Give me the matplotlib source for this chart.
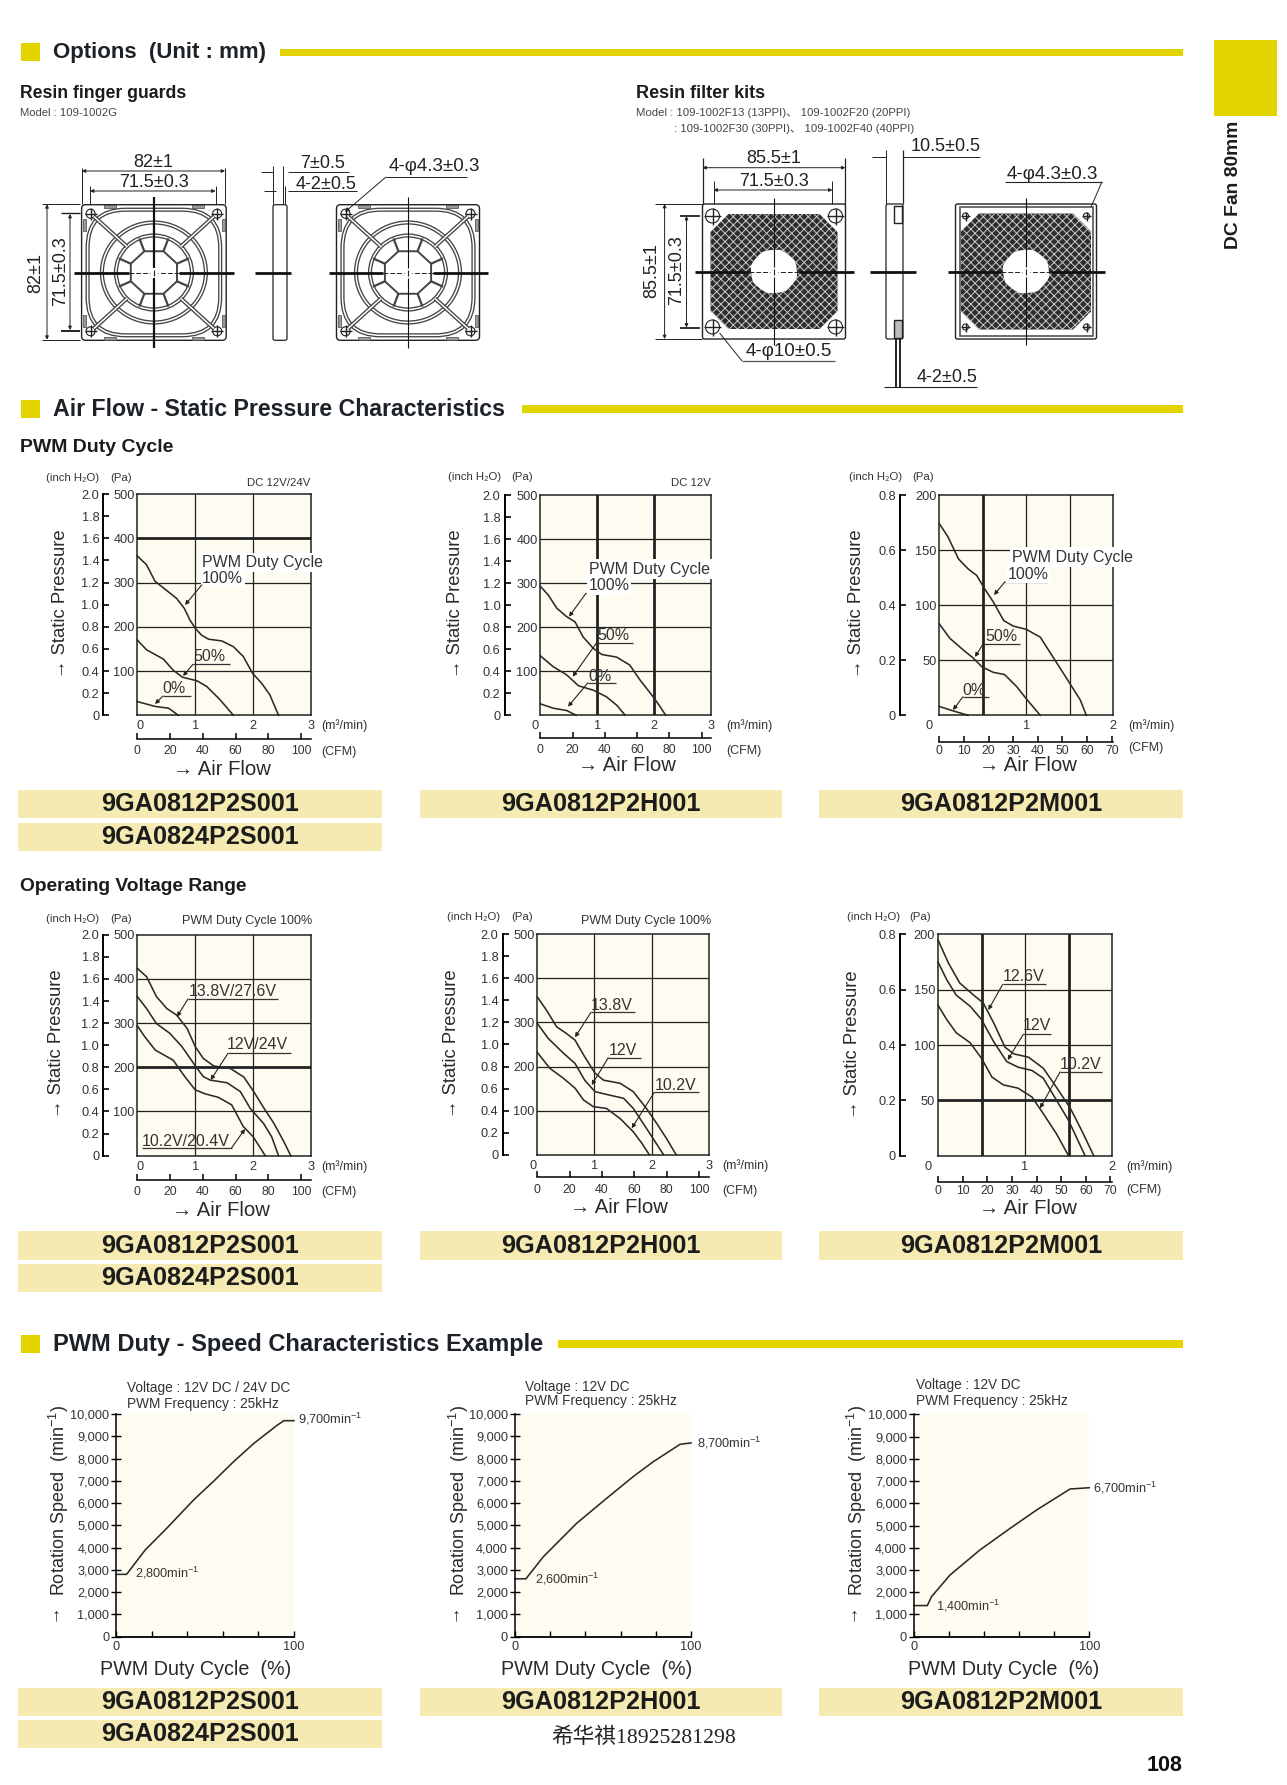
#!/usr/bin/env python3

import numpy as np
import matplotlib
matplotlib.use("Agg")
import matplotlib.pyplot as plt
from matplotlib.patches import Rectangle, Ellipse, FancyBboxPatch, PathPatch, Circle
from matplotlib.path import Path
from matplotlib.transforms import Affine2D, ScaledTranslation

W, H = 1287, 1785

YELLOW = "#E3D400"
BAND = "#F5EBB2"
CREAM = "#FEFCF0"
INK = "#222222"
SANS = ["Liberation Sans", "DejaVu Sans"]

plt.rcParams["hatch.linewidth"] = 0.7

# PWM duty cycle charts: flow in m3/min, pressure in Pa
s_duty_flow_100 = [0, .16, .305, .507, .68, .81, .91, 1.0, 1.11, 1.23, 1.46, 1.66, 1.83, 1.99, 2.15, 2.29, 2.44]
s_duty_pa_100 = [360, 340, 303, 282, 264, 242, 215, 197, 181, 172, 168, 155, 133, 95, 72, 46, 0]
s_duty_flow_50 = [0, .16, .45, .62, .78, 1.03, 1.2, 1.43, 1.66]
s_duty_pa_50 = [170, 148, 127, 102, 86, 78, 65, 35, 0]
s_duty_flow_0 = [0, .31, .54, .71]
s_duty_pa_0 = [31, 20, 16, 0]

h_duty_flow_100 = [0, .14, .29, .46, .61, .75, .93, 1.08, 1.34, 1.57, 1.75, 1.98, 2.1, 2.2]
h_duty_pa_100 = [293, 273, 243, 224, 212, 178, 152, 138, 132, 114, 80, 42, 20, 0]
h_duty_flow_50 = [0, .23, .46, .67, .93, 1.16, 1.34, 1.49]
h_duty_pa_50 = [135, 110, 92, 67, 57, 42, 23, 0]
h_duty_flow_0 = [0, .23, .46, .63]
h_duty_pa_0 = [26, 16, 11, 0]

m_duty_flow_100 = [0, .10, .22, .33, .43, .52, .62, .74, .85, 1.0, 1.16, 1.33, 1.5, 1.62, 1.69]
m_duty_pa_100 = [174, 162, 142, 133, 127, 115, 103, 86, 81, 78, 71, 50, 29, 14, 0]
m_duty_flow_50 = [0, .12, .28, .39, .49, .62, .75, .89, 1.0, 1.16]
m_duty_pa_50 = [83, 70, 59, 52, 44, 39, 37, 26, 15, 0]
m_duty_flow_0 = [0, .16, .33]
m_duty_pa_0 = [8, 4, 0]

# operating voltage charts
s_volt_flow_hi = [0, .16, .33, .51, .68, .86, 1.0, 1.14, 1.32, 1.61, 1.84, 2.01, 2.19, 2.36, 2.53, 2.65]
s_volt_pa_hi = [424, 405, 360, 333, 318, 288, 247, 220, 203, 197, 178, 145, 107, 73, 32, 0]
s_volt_flow_mid = [0, .16, .33, .56, .77, 1.03, 1.14, 1.26, 1.55, 1.78, 1.95, 2.18, 2.32, 2.44]
s_volt_pa_mid = [360, 333, 299, 277, 247, 198, 179, 171, 165, 145, 107, 73, 43, 0]
s_volt_flow_lo = [0, .13, .31, .62, .82, 1.0, 1.17, 1.4, 1.63, 1.83, 2.0, 2.21]
s_volt_pa_lo = [294, 269, 239, 216, 179, 149, 140, 132, 115, 66, 43, 0]

h_volt_flow_hi = [0, .16, .34, .51, .66, .83, 1.01, 1.16, 1.45, 1.68, 1.91, 2.09, 2.26, 2.43]
h_volt_pa_hi = [358, 328, 290, 275, 260, 222, 185, 169, 162, 143, 105, 71, 37, 0]
h_volt_flow_mid = [0, .19, .46, .66, .83, 1.01, 1.27, 1.51, 1.68, 1.97, 2.21]
h_volt_pa_mid = [298, 264, 230, 207, 169, 143, 135, 128, 105, 48, 0]
h_volt_flow_lo = [0, .22, .46, .66, .81, .98, 1.21, 1.45, 1.68, 1.83, 1.96]
h_volt_pa_lo = [232, 196, 173, 151, 124, 109, 105, 82, 52, 26, 0]

m_volt_flow_hi = [0, .12, .25, .41, .52, .64, .77, .87, 1.04, 1.21, 1.36, 1.52, 1.65, 1.79]
m_volt_pa_hi = [195, 174, 156, 145, 138, 120, 98, 92, 89, 79, 62, 43, 23, 0]
m_volt_flow_mid = [0, .10, .21, .37, .50, .64, .79, .92, 1.08, 1.21, 1.34, 1.5, 1.69]
m_volt_pa_mid = [175, 159, 145, 135, 123, 103, 85, 80, 77, 70, 53, 32, 0]
m_volt_flow_lo = [0, .10, .21, .37, .50, .62, .75, .92, 1.08, 1.21, 1.36, 1.5]
m_volt_pa_lo = [136, 123, 111, 102, 88, 71, 64, 61, 53, 38, 20, 0]

# duty - speed charts
s_speed_duty = [0, 5.8, 16.2, 28.4, 43.5, 55, 66, 77.4, 90.6, 94.3, 100]
s_speed_rpm = [2800, 2800, 3890, 4870, 6140, 7000, 7860, 8680, 9500, 9700, 9700]
h_speed_duty = [0, 6.2, 16.1, 35, 52, 67.2, 78.6, 93.8, 100]
h_speed_rpm = [2600, 2600, 3590, 5090, 6210, 7190, 7860, 8640, 8700]
m_speed_duty = [0, 7.6, 10, 20.5, 37.6, 54.8, 70, 89, 100]
m_speed_rpm = [1400, 1400, 1800, 2770, 3900, 4870, 5700, 6640, 6700]

pa_ticks_500 = [100, 200, 300, 400, 500]
pa_ticks_200 = [50, 100, 150, 200]
inch_ticks_2 = [0, .2, .4, .6, .8, 1.0, 1.2, 1.4, 1.6, 1.8, 2.0]
inch_ticks_08 = [0, .2, .4, .6, .8]
cfm_ticks_100 = [0, 20, 40, 60, 80, 100]
cfm_ticks_70 = [0, 10, 20, 30, 40, 50, 60, 70]
rpm_ticks = list(range(0, 10001, 1000))

fig = plt.figure(figsize=(W / 100, H / 100), dpi=100, facecolor="white")

ov = fig.add_axes([0, 0, 1, 1], zorder=5)
ov.set_xlim(0, W)
ov.set_ylim(H, 0)
ov.axis("off")
ov.patch.set_alpha(0)


def txt(x, y, s, size=11, family=SANS, weight="normal", ha="center", va="center", rot=0, color=INK, **kw):
    return ov.text(x, y, s, fontsize=size, family=family, fontweight=weight, ha=ha, va=va,
                   rotation=rot, color=color, **kw)


def seg(xs, ys, lw=0.8, color=INK, **kw):
    ov.plot(xs, ys, lw=lw, color=color, solid_capstyle="butt", **kw)


def arrow(a, b, style="-|>", lw=0.8, size=6):
    ov.annotate("", xy=b, xytext=a,
                arrowprops=dict(arrowstyle=style, lw=lw, color=INK, mutation_scale=size,
                                shrinkA=0, shrinkB=0))


def section(y0, y1, text, size, text_y, bar_x, bar_y0, bar_y1):
    ov.add_patch(Rectangle((20.5, y0), 19.5, y1 - y0, fc=YELLOW, ec="none"))
    txt(53, text_y, text, size=size, weight="bold", ha="left", color="#1c2228")
    ov.add_patch(Rectangle((bar_x, bar_y0), 1182.7 - bar_x, bar_y1 - bar_y0, fc=YELLOW, ec="none"))


def band(x0, x1, y0, y1, label):
    ov.add_patch(Rectangle((x0, y0), x1 - x0, y1 - y0, fc=BAND, ec="none"))
    txt((x0 + x1) / 2, (y0 + y1) / 2 + 0.5, label, size=18.2, weight="bold", color="#1c1c1c")


def px_axes(left, right, top, bottom):
    return fig.add_axes([left / W, 1 - bottom / H, (right - left) / W, (bottom - top) / H], zorder=2)


def fan_chart(box, inch_x, cfm_y, cfm_gap, xmax, ymax, grid_x, pa_ticks, inch_ticks, cfm_ticks, curves,
              thick_x=(), thick_y=(), zero_dx=0):
    left, right, top, bottom = box
    ax = px_axes(left, right, top, bottom)
    ax.set_xlim(0, xmax)
    ax.set_ylim(0, ymax)
    ax.set_facecolor(CREAM)
    for sp in ax.spines.values():
        sp.set_linewidth(1.1)
        sp.set_color(INK)
    for g in grid_x:
        ax.axvline(g, color=INK, lw=2.0 if g in thick_x else 0.9)
    for g in pa_ticks[:-1]:
        ax.axhline(g, color=INK, lw=2.0 if g in thick_y else 0.9)
    for fx, fy in curves:
        ax.plot(fx, fy, color="#2a2a2a", lw=1.15, clip_on=False)
    ax.set_xticks(range(xmax + 1), [str(i) for i in range(xmax + 1)])
    ax.set_yticks(pa_ticks, [str(p) for p in pa_ticks])
    ax.tick_params(length=0, labelsize=9.2, labelfontfamily=SANS[0], labelcolor="#333333")
    ax.tick_params(axis="x", pad=3.5)
    ax.tick_params(axis="y", pad=2)
    if zero_dx:
        lab = ax.get_xticklabels()[0]
        lab.set_transform(lab.get_transform() + ScaledTranslation(zero_dx / 100, 0, fig.dpi_scale_trans))

    wd, ht = right - left, bottom - top
    sec_y = ax.secondary_yaxis((inch_x - left) / wd, functions=(lambda p: p / 250, lambda i: i * 250))
    sec_y.set_yticks(inch_ticks, ["0" if t == 0 else f"{t:.1f}" for t in inch_ticks])
    sec_y.tick_params(direction="in", length=4, width=1.2, pad=3, labelsize=9.2,
                      labelfontfamily=SANS[0], labelcolor="#333333")
    sec_y.spines["left"].set_linewidth(1.4)

    sec_x = ax.secondary_xaxis(-(cfm_y - bottom) / ht, functions=(lambda m: m * 35.31, lambda c: c / 35.31))
    sec_x.set_xticks(cfm_ticks, [str(t) for t in cfm_ticks])
    sec_x.tick_params(direction="in", length=4, width=1.1, pad=cfm_gap * 0.72, labelsize=8.8,
                      labelfontfamily=SANS[0], labelcolor="#333333")
    sec_x.spines["bottom"].set_linewidth(1.1)
    return ax


def chart_labels(inch_c, pa_c, unit_y, unit_x, m3_y, cfm_label_y, flow_c, flow_y, stat_x, stat_y):
    txt(inch_c, unit_y, "(inch H\u2082O)", size=8.2, color="#333333")
    txt(pa_c, unit_y, "(Pa)", size=8.2, color="#333333")
    txt(unit_x, m3_y, "(m\u00b3/min)", size=9, ha="left", color="#333333")
    txt(unit_x, cfm_label_y, "(CFM)", size=9, ha="left", color="#333333")
    txt(flow_c, flow_y, "\u2192 Air Flow", size=14.6, color="#2a2a2a")
    txt(stat_x + 3, stat_y, "\u2192 Static Pressure", size=13.3, rot=90, color="#2a2a2a")


def corner_note(right_x, y, text, size):
    txt(right_x, y, text, size=size, ha="right", color="#333333")


def callout(text, cx, cy, x0, x1, uy, tip, white=False):
    bbox = dict(fc="white", ec="none", pad=1.0) if white else None
    txt(cx, cy, text, size=11.5, color="#333333", bbox=bbox)
    seg([x0, x1], [uy, uy], lw=0.9, color="#333333")
    arrow((x0, uy), tip)


def pwm_title(x, y):
    txt(x, y, "PWM Duty Cycle", size=11.5, ha="left", color="#333333",
        bbox=dict(fc="white", ec="none", pad=1.5))


def speed_chart(box, duty, rpm, note_x, note_lines, note_ys, stat_x, xlab_c):
    left, right, top, bottom = box
    ax = px_axes(left, right, top, bottom)
    ax.set_xlim(0, 100)
    ax.set_ylim(0, 10000)
    ax.set_facecolor(CREAM)
    ax.spines["top"].set_visible(False)
    ax.spines["right"].set_visible(False)
    ax.spines["left"].set_linewidth(1.1)
    ax.spines["bottom"].set_linewidth(1.3)
    ax.plot(duty, rpm, color="#2a2a2a", lw=1.15, clip_on=False)
    ax.set_yticks(rpm_ticks, [f"{r:,}" for r in rpm_ticks])
    ax.set_xticks([0, 20, 40, 60, 80, 100], ["0", "", "", "", "", "100"])
    ax.tick_params(axis="y", direction="inout", length=7, width=1.0, pad=1.5)
    ax.tick_params(axis="x", direction="in", length=4, width=1.0, pad=3)
    ax.tick_params(labelsize=9.2, labelfontfamily=SANS[0], labelcolor="#333333")
    for yy, line in zip(note_ys, note_lines):
        txt(note_x, yy, line, size=9.8, ha="left", color="#333333")
    txt(stat_x + 3, 1500.7, "Rotation Speed  (min$^{\\mathregular{-1}}$)", size=13, rot=90, color="#2a2a2a")
    txt(stat_x, 1616, "\u2191", size=13, color="#2a2a2a")
    txt(xlab_c, 1669.3, "PWM Duty Cycle  (%)", size=14.2, color="#2a2a2a")
    return ax


def speed_note(x, y, text):
    txt(x, y, text + "$^{\\mathregular{-1}}$", size=9.2, ha="left", color="#333333")


def dim_h(x0, x1, y, text, tx, ty):
    arrow((x0, y), (x1, y), style="<|-|>", lw=0.7, size=5)
    txt(tx, ty, text, size=13)


def dim_v(x, y0, y1, text, tx, ty):
    arrow((x, y0), (x, y1), style="<|-|>", lw=0.7, size=5)
    txt(tx, ty, text, size=13, rot=90)


def screw(x, y, r=4.5):
    ov.add_patch(Circle((x, y), r, fc="white", ec=INK, lw=0.8))
    seg([x - r - 1.5, x + r + 1.5], [y, y], lw=1.0)
    seg([x, x], [y - r - 1.5, y + r + 1.5], lw=1.0)


def double_line(xs, ys):
    seg(xs, ys, lw=3.0, color="#444444")
    seg(xs, ys, lw=1.1, color="white")


def center_marks(cx, cy, hw, vw, heavy):
    for sgn in (-1, 1):
        seg([cx + sgn * 25, cx + sgn * hw], [cy, cy], lw=2.0, color="#111111")
        seg([cx + sgn * 25, cx + sgn * 4], [cy, cy], lw=0.7, ls=(0, (5, 2)))
        seg([cx, cx], [cy + sgn * 5, cy + sgn * vw], lw=1.6 if heavy else 0.8, color="#111111")
    seg([cx, cx], [cy - 3, cy + 3], lw=0.8)


def draw_guard(cx, cy, hw, hh, heavy):
    ov.add_patch(FancyBboxPatch((cx - hw, cy - hh), 2 * hw, 2 * hh, boxstyle="round,pad=0,rounding_size=4",
                                fc="white", ec=INK, lw=1.0))
    for ec, lw in (("#444444", 3.0), ("white", 1.1)):
        ov.add_patch(FancyBboxPatch((cx - hw + 6, cy - hh + 5), 2 * hw - 12, 2 * hh - 10,
                                    boxstyle="round,pad=0,rounding_size=38", fc="none", ec=ec, lw=lw))
    for rx, ry in [(52, 50), (38, 37)]:
        ov.add_patch(Ellipse((cx, cy), 2 * rx, 2 * ry, fc="none", ec="#444444", lw=3.0))
        ov.add_patch(Ellipse((cx, cy), 2 * rx, 2 * ry, fc="none", ec="white", lw=1.1))
    # inner polygon ring with its ties to the next ring
    ang = np.deg2rad(np.arange(22.5, 360, 45))
    px = cx + 25 * np.cos(ang)
    py = cy + 23 * np.sin(ang)
    ov.plot(np.append(px, px[0]), np.append(py, py[0]), color="#444444", lw=1.4)
    for a, x_in, y_in in zip(ang, px, py):
        seg([x_in, cx + 38 * np.cos(a)], [y_in, cy + 37 * np.sin(a)], lw=1.6, color="#444444")
    for sx in (-1, 1):
        for sy in (-1, 1):
            double_line([cx + sx * 27, cx + sx * 60], [cy + sy * 26, cy + sy * 56])
            screw(cx + sx * (hw - 9), cy + sy * (hh - 9))
            ov.add_patch(Rectangle((cx + sx * 44 - 6, cy + sy * (hh - 2) - 1.5), 12, 3, fc="#999999", ec="#444444", lw=0.5))
            ov.add_patch(Rectangle((cx + sx * (hw - 3) - 1.5, cy + sy * 48 - 6), 3, 12, fc="#999999", ec="#444444", lw=0.5))
    center_marks(cx, cy, hw + 8, hh + 8, heavy)


def draw_side(x0, x1, cy, hh, cross0, cross1):
    ov.add_patch(FancyBboxPatch((x0, cy - hh), x1 - x0, 2 * hh, boxstyle="round,pad=0,rounding_size=2",
                                fc="white", ec=INK, lw=0.9))
    seg([cross0, cross1], [cy, cy], lw=2.0, color="#111111")


def draw_filter(cx, cy, hw, hh, mesh_w, mesh_h, screw_r, framed):
    ov.add_patch(FancyBboxPatch((cx - hw, cy - hh), 2 * hw, 2 * hh, boxstyle="round,pad=0,rounding_size=2",
                                fc="white", ec=INK, lw=1.0))
    if framed:
        ov.add_patch(Rectangle((cx - hw + 4, cy - hh + 3), 2 * hw - 8, 2 * hh - 6, fc="none", ec="#555555", lw=1.2))
    c = 18
    outer = [(cx - mesh_w + c, cy - mesh_h), (cx + mesh_w - c, cy - mesh_h), (cx + mesh_w, cy - mesh_h + c),
             (cx + mesh_w, cy + mesh_h - c), (cx + mesh_w - c, cy + mesh_h), (cx - mesh_w + c, cy + mesh_h),
             (cx - mesh_w, cy + mesh_h - c), (cx - mesh_w, cy - mesh_h + c), (cx - mesh_w + c, cy - mesh_h)]
    hole = Path.unit_circle().transformed(Affine2D().scale(23, 21.7).translate(cx, cy))
    hole = Path(hole.vertices[::-1], [Path.MOVETO] + [Path.CURVE4] * (len(hole.vertices) - 2) + [Path.CLOSEPOLY])
    path = Path.make_compound_path(Path(outer, closed=True), hole)
    ov.add_patch(PathPatch(path, fc="#2e2e2e", ec="#c8c8c8", lw=0, hatch="xxxx"))
    for sx in (-1, 1):
        for sy in (-1, 1):
            screw(cx + sx * (hw - 10), cy + sy * (hh - 12), r=screw_r)
    center_marks(cx, cy, hw + 8, hh + 6, False)


# page furniture
section(42.7, 61, "Options  (Unit : mm)", 16, 52, 280, 49, 56)
section(400, 418, "Air Flow - Static Pressure Characteristics", 16.7, 409, 522, 405, 412.7)
section(1335, 1353, "PWM Duty - Speed Characteristics Example", 17, 1344, 558, 1340, 1348)

ov.add_patch(Rectangle((1214, 40), 63, 76, fc=YELLOW, ec="none"))
txt(1233, 185, "DC Fan 80mm", size=13.9, weight="bold", rot=90, color="#1c1c1c")
txt(1182, 1765, "108", size=15.5, weight="bold", ha="right", color="#111111")
txt(643.7, 1737.7, "\u5e0c\u534e\u797a18925281298", size=15.6, family=["Liberation Serif", "Noto Sans CJK SC"], color="#222222")

# sub headings
txt(20, 93, "Resin finger guards", size=12.7, weight="bold", ha="left", color="#1c1c1c")
txt(20, 113, "Model : 109-1002G", size=8.1, ha="left", color="#444444")
txt(636, 93, "Resin filter kits", size=13, weight="bold", ha="left", color="#1c1c1c")
txt(636, 113, "Model : 109-1002F13 (13PPI)\u3001 109-1002F20 (20PPI)", size=8.2, ha="left", color="#444444",
    family=["Liberation Sans", "Noto Sans CJK SC"])
txt(674, 129, ": 109-1002F30 (30PPI)\u3001 109-1002F40 (40PPI)", size=8.2, ha="left", color="#444444",
    family=["Liberation Sans", "Noto Sans CJK SC"])
txt(20, 447.7, "PWM Duty Cycle", size=14, weight="bold", ha="left", color="#1c1c1c")
txt(20, 886, "Operating Voltage Range", size=13.8, weight="bold", ha="left", color="#1c1c1c")

# finger guard drawings
draw_guard(153.9, 272.5, 72.3, 67.8, True)
draw_side(273, 287, 272.5, 67.8, 255, 291)
draw_guard(408, 272.5, 71.5, 67.8, False)
for x in (82, 225):
    seg([x, x], [168, 204], lw=0.7)
for x in (90, 215.5):
    seg([x, x], [186, 204], lw=0.7)
dim_h(82, 225, 171, "82\u00b11", 153, 162)
dim_h(90, 215.5, 191, "71.5\u00b10.3", 154, 182)
seg([42, 80], [204.3, 204.3], lw=0.7)
seg([42, 80], [339.7, 339.7], lw=0.7)
seg([61, 80], [213, 213], lw=1.0)
seg([61, 80], [331, 331], lw=1.4)
dim_v(47, 204.3, 339.7, "82\u00b11", 36, 272.7)
dim_v(70, 214, 330, "71.5\u00b10.3", 61, 271.6)
seg([273, 273], [166, 204], lw=0.7)
seg([283, 283], [166, 204], lw=0.7)
seg([285, 285], [186, 204], lw=0.7)
seg([261, 273], [172, 172], lw=0.7)
seg([288, 349], [172, 172], lw=0.7)
seg([264, 276], [191, 191], lw=0.7)
seg([288, 357], [191, 191], lw=0.7)
txt(323, 163, "7\u00b10.5", size=13)
txt(326.5, 184, "4-2\u00b10.5", size=13)
txt(434.7, 166.7, "4-\u03c64.3\u00b10.3", size=13.5)
seg([386, 467], [177, 177], lw=0.7)
arrow((386, 177), (345, 212), lw=0.7)

# filter kit drawings
draw_filter(774, 271.5, 71.5, 67.5, 63.5, 57.5, 7, False)
ov.add_patch(FancyBboxPatch((886, 204), 17, 135, boxstyle="round,pad=0,rounding_size=2", fc="white", ec=INK, lw=0.9))
seg([870, 916], [271.5, 271.5], lw=2.0, color="#111111")
ov.add_patch(Rectangle((894, 206), 8, 17, fc="white", ec=INK, lw=1.0))
ov.add_patch(Rectangle((894, 320), 8, 18, fc="#bbbbbb", ec=INK, lw=1.0))
seg([896, 896], [338, 388], lw=1.4)
seg([900, 900], [338, 388], lw=1.4)
draw_filter(1026, 271.5, 70.5, 67.5, 65, 58, 3, True)
for x in (702.5, 845.3):
    seg([x, x], [158, 204], lw=0.9)
for x in (713.6, 832.4):
    seg([x, x], [181, 204], lw=0.7)
dim_h(702.5, 845.3, 167.7, "85.5\u00b11", 773.6, 158)
dim_h(713.6, 832.4, 190, "71.5\u00b10.3", 773.6, 181)
seg([655, 702], [204, 204], lw=0.7)
seg([655, 702], [339, 339], lw=0.7)
seg([680, 700], [215.7, 215.7], lw=1.3)
seg([680, 700], [327.7, 327.7], lw=1.3)
dim_v(664.6, 204, 339, "85.5\u00b11", 652, 270.7)
dim_v(686.5, 216, 327.5, "71.5\u00b10.3", 677, 270)
seg([886, 886], [150, 204], lw=0.7)
seg([903, 903], [150, 204], lw=0.9)
seg([872, 886], [157, 157], lw=0.7)
seg([903, 979.6], [157, 157], lw=0.7)
txt(946, 146.7, "10.5\u00b10.5", size=13)
txt(1052.6, 174, "4-\u03c64.3\u00b10.3", size=13.5)
seg([1005, 1102], [181.7, 181.7], lw=0.8)
seg([1102, 1091], [181.7, 207], lw=0.7)
txt(788.7, 351, "4-\u03c610\u00b10.5", size=13.5)
seg([742, 834.6], [361, 361], lw=0.9, color="#555555")
seg([742, 719.6], [361, 333], lw=0.7)
txt(947.5, 377.7, "4-2\u00b10.5", size=13)
seg([884, 977], [386.7, 386.7], lw=0.8)

# air flow charts, PWM duty row
fan_chart((137.3, 311, 494, 715.3), 103.3, 739.3, 6, 3, 500, [1, 2], pa_ticks_500, inch_ticks_2, cfm_ticks_100,
          [(s_duty_flow_100, s_duty_pa_100), (s_duty_flow_50, s_duty_pa_50), (s_duty_flow_0, s_duty_pa_0)],
          thick_y=[400], zero_dx=3)
chart_labels(72.7, 120.7, 478.3, 321.7, 725.7, 751.7, 222, 769, 57.3, 604)
corner_note(310, 482.7, "DC 12V/24V", 8.2)
pwm_title(201.7, 562.7)
callout("100%", 222.7, 578, 201.7, 240, 585, (185, 605), white=True)
callout("50%", 209, 656.7, 193, 230, 664.3, (183, 676))
callout("0%", 174, 688.7, 163, 191, 696, (155, 704))

fan_chart((540.3, 711.3, 495, 715.3), 504.7, 737.7, 6, 3, 500, [1, 2], pa_ticks_500, inch_ticks_2, cfm_ticks_100,
          [(h_duty_flow_100, h_duty_pa_100), (h_duty_flow_50, h_duty_pa_50), (h_duty_flow_0, h_duty_pa_0)],
          thick_x=[1, 2], zero_dx=-5)
chart_labels(474.3, 521.7, 477, 726.7, 725.7, 751, 626.7, 765.7, 452.7, 604)
corner_note(711, 483.3, "DC 12V", 8.2)
pwm_title(589.3, 569)
callout("100%", 609, 585.7, 586, 625, 593.3, (569, 616.7), white=True)
callout("50%", 613, 635, 596.7, 633, 642.7, (572.7, 676.7))
callout("0%", 600, 676, 588, 615.7, 682.7, (568, 706.7))

fan_chart((939.3, 1113.3, 495, 715.3), 900, 741.7, 3, 2, 200, [.5, 1, 1.5], pa_ticks_200, inch_ticks_08, cfm_ticks_70,
          [(m_duty_flow_100, m_duty_pa_100), (m_duty_flow_50, m_duty_pa_50), (m_duty_flow_0, m_duty_pa_0)],
          thick_x=[.5], zero_dx=-10)
chart_labels(875.7, 923.3, 477, 1128.3, 725.7, 747.7, 1027.5, 765.7, 853.3, 604)
pwm_title(1012.3, 557)
callout("100%", 1028, 574, 1005, 1048, 581.7, (994, 595), white=True)
callout("50%", 1001.7, 636.7, 983, 1020, 644, (975, 657))
callout("0%", 974, 690, 963, 989, 696.7, (953, 710))

# air flow charts, voltage row
fan_chart((137.3, 311, 934.7, 1155.7), 103.3, 1180, 6, 3, 500, [1, 2], pa_ticks_500, inch_ticks_2, cfm_ticks_100,
          [(s_volt_flow_hi, s_volt_pa_hi), (s_volt_flow_mid, s_volt_pa_mid), (s_volt_flow_lo, s_volt_pa_lo)],
          thick_y=[200], zero_dx=3)
chart_labels(72.7, 120.7, 919.3, 321.7, 1166.7, 1192.3, 221, 1210, 53.3, 1044)
corner_note(312.3, 920.7, "PWM Duty Cycle 100%", 9)
callout("13.8V/27.6V", 232.7, 991, 188, 278, 999, (177, 1016.7))
callout("12V/24V", 257.7, 1044, 228, 290.7, 1053.3, (210.7, 1080))
callout("10.2V/20.4V", 185.7, 1141.7, 231.7, 141.7, 1147.7, (245, 1129))

fan_chart((537.3, 708.7, 934.3, 1154.7), 502.7, 1176.7, 7, 3, 500, [1, 2], pa_ticks_500, inch_ticks_2, cfm_ticks_100,
          [(h_volt_flow_hi, h_volt_pa_hi), (h_volt_flow_mid, h_volt_pa_mid), (h_volt_flow_lo, h_volt_pa_lo)],
          zero_dx=-4)
chart_labels(473.3, 521.7, 916.7, 722.7, 1165.7, 1190.7, 618.7, 1207.3, 448.3, 1044)
corner_note(711.7, 920.7, "PWM Duty Cycle 100%", 9)
callout("13.8V", 611.7, 1005, 591, 635, 1012.3, (575, 1037.3))
callout("12V", 622.7, 1050.7, 608.3, 640.7, 1057.7, (591.7, 1085))
callout("10.2V", 676, 1085, 654.3, 699.3, 1092.3, (631.7, 1128.3))

fan_chart((938, 1112, 934.3, 1155.7), 900, 1182.3, 3, 2, 200, [.5, 1, 1.5], pa_ticks_200, inch_ticks_08, cfm_ticks_70,
          [(m_volt_flow_hi, m_volt_pa_hi), (m_volt_flow_mid, m_volt_pa_mid), (m_volt_flow_lo, m_volt_pa_lo)],
          thick_x=[.5, 1.5], thick_y=[50], zero_dx=-10)
chart_labels(873.3, 920, 916.7, 1126.7, 1166.7, 1190, 1027.5, 1208.3, 849.3, 1045)
callout("12.6V", 1024, 976.7, 1002.7, 1045.7, 984.3, (988.3, 1010))
callout("12V", 1036.7, 1025.7, 1023.3, 1050.7, 1034.3, (1007.7, 1060))
callout("10.2V", 1080.7, 1064, 1060, 1101.7, 1072, (1040, 1108.3))

# model name bands
band(18, 382, 790, 817.7, "9GA0812P2S001")
band(18, 382, 823, 850.7, "9GA0824P2S001")
band(420, 782, 790, 817.7, "9GA0812P2H001")
band(819, 1182.7, 790, 817.7, "9GA0812P2M001")
band(18, 382, 1231, 1259.7, "9GA0812P2S001")
band(18, 382, 1264, 1291.7, "9GA0824P2S001")
band(420, 782, 1231, 1259.7, "9GA0812P2H001")
band(819, 1182.7, 1231, 1259.7, "9GA0812P2M001")
band(18, 382, 1688, 1715.7, "9GA0812P2S001")
band(18, 382, 1720, 1747.7, "9GA0824P2S001")
band(420, 782, 1688, 1715.7, "9GA0812P2H001")
band(819, 1182.7, 1688, 1715.7, "9GA0812P2M001")

# speed charts
speed_chart((116.3, 294, 1414, 1636.7), s_speed_duty, s_speed_rpm, 126.7,
            ["Voltage : 12V DC / 24V DC", "PWM Frequency : 25kHz"], [1387.7, 1404], 55.7, 196)
speed_note(298, 1419, "9,700min")
speed_note(135, 1573, "2,800min")
speed_chart((515, 691, 1414, 1636.7), h_speed_duty, h_speed_rpm, 525,
            ["Voltage : 12V DC", "PWM Frequency : 25kHz"], [1386.7, 1401], 456, 596.7)
speed_note(696.7, 1442.7, "8,700min")
speed_note(535, 1579, "2,600min")
speed_chart((914, 1089.3, 1414.3, 1636.7), m_speed_duty, m_speed_rpm, 916,
            ["Voltage : 12V DC", "PWM Frequency : 25kHz"], [1385.3, 1401], 854.3, 1004)
speed_note(1092.7, 1488, "6,700min")
speed_note(936, 1606, "1,400min")

fig.savefig("out.png", dpi=100)
